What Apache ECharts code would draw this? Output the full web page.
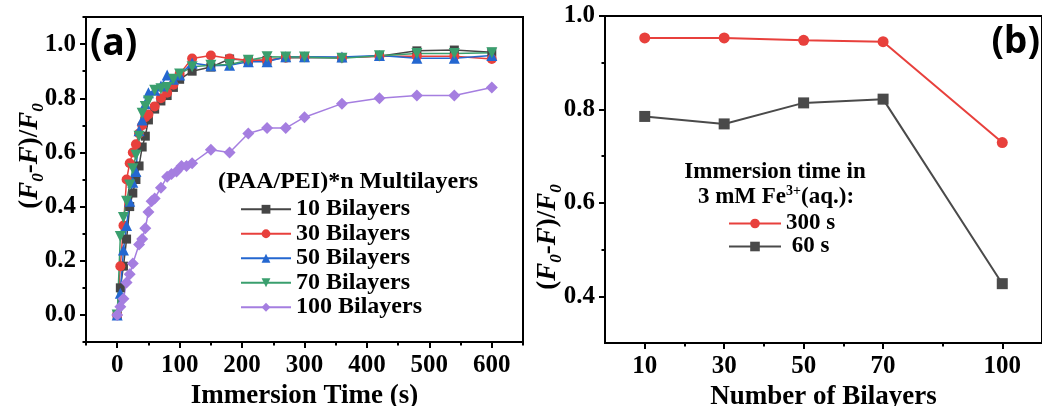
<!DOCTYPE html>
<html>
<head>
<meta charset="utf-8">
<script src="https://cdn.jsdelivr.net/npm/echarts@6/dist/echarts.min.js"></script>
<style>
html,body{margin:0;padding:0;background:#fff;}
#chart{width:1042px;height:406px;}
</style>
</head>
<body>
<div id="chart"></div>
<script>
// ---------- Data: panel (a) ----------
const timeFast = [0,5,10,15,20,25,30,35,40,45,50,60,70,80,90,100,120,150,180,210,240,270,300,360,420,480,540,600];
const bil10  = [0,0.10,0.18,0.28,0.40,0.45,0.50,0.55,0.62,0.66,0.72,0.76,0.79,0.81,0.84,0.87,0.90,0.915,0.945,0.94,0.94,0.95,0.95,0.95,0.955,0.975,0.978,0.97];
const bil30  = [0,0.18,0.33,0.50,0.56,0.60,0.63,0.67,0.70,0.73,0.74,0.77,0.80,0.82,0.85,0.89,0.947,0.958,0.947,0.94,0.94,0.95,0.952,0.95,0.955,0.955,0.955,0.945];
const bil50  = [0,0.08,0.24,0.33,0.42,0.49,0.53,0.68,0.72,0.78,0.82,0.83,0.845,0.886,0.87,0.886,0.93,0.92,0.922,0.935,0.935,0.953,0.953,0.952,0.958,0.948,0.948,0.958];
const bil70  = [0,0.29,0.36,0.42,0.48,0.54,0.59,0.66,0.745,0.77,0.79,0.83,0.835,0.84,0.87,0.89,0.916,0.922,0.925,0.94,0.953,0.952,0.952,0.948,0.957,0.965,0.965,0.968];
const time100 = [0,5,10,15,20,25,35,40,45,50,55,60,70,80,87,95,103,111,120,150,180,210,240,270,300,360,420,480,540,600];
const bil100 = [0,0.03,0.06,0.12,0.15,0.19,0.26,0.28,0.32,0.38,0.42,0.43,0.47,0.51,0.52,0.53,0.55,0.55,0.56,0.61,0.60,0.67,0.69,0.69,0.73,0.78,0.80,0.81,0.81,0.84];
const namesA = ['10 Bilayers','30 Bilayers','50 Bilayers','70 Bilayers','100 Bilayers'];
const xTicksA = [0,100,200,300,400,500,600];
const xMinorA = [-50,50,150,250,350,450,550,650];
const yTicksA = [0,0.2,0.4,0.6,0.8,1.0];
const yMinorA = [-0.1,0.1,0.3,0.5,0.7,0.9,1.1];

// ---------- Data: panel (b) ----------
const bilayers = [10,30,50,70,100];
const t300 = [0.953,0.953,0.948,0.945,0.729];
const t60  = [0.785,0.769,0.814,0.822,0.427];
const namesB = ['300 s',' 60 s'];
const xTicksB = [10,30,50,70,100];
const xMinorB = [20,40,60,85];
const yTicksB = [0.4,0.6,0.8,1.0];
const yMinorB = [0.5,0.7,0.9];

const FONT = 'Liberation Serif';
const colA = ['#454545','#e8403c','#2467d0','#3a9f6e','#a57ee0'];
const symA = ['rect','circle','triangle','path://M0,0L2,0L1,1.732Z','diamond'];
const sizeA = [9,10,11,11,12];
const dataA = [bil10,bil30,bil50,bil70,bil100];
const timesA = [timeFast,timeFast,timeFast,timeFast,time100];

const chart = echarts.init(document.getElementById('chart'), null, {renderer:'canvas'});

const labelStyle = {fontFamily:FONT, fontWeight:'bold', fontSize:25, color:'#000'};
const nameStyle = {fontFamily:FONT, fontWeight:'bold', fontSize:27, color:'#000'};
const axLine = {show:true, onZero:false, lineStyle:{color:'#000', width:2}};

function mainX(grid, min, max, ticks, name, gap){
  return {type:'value', gridIndex:grid, min:min, max:max, position:'bottom',
    axisLine:axLine, splitLine:{show:false},
    axisTick:{show:true, customValues:ticks, length:6, lineStyle:{color:'#000', width:2}},
    axisLabel:{customValues:ticks, margin:11, ...labelStyle},
    name:name, nameLocation:'middle', nameGap:gap, nameTextStyle:nameStyle};
}
function minorX(grid, min, max, ticks){
  return {type:'value', gridIndex:grid, min:min, max:max, position:'bottom',
    axisLine:{show:false, onZero:false}, splitLine:{show:false}, axisLabel:{show:false},
    axisTick:{show:true, customValues:ticks, length:3.5, lineStyle:{color:'#000', width:2}}};
}
function mainY(grid, min, max, ticks){
  return {type:'value', gridIndex:grid, min:min, max:max, position:'left',
    axisLine:axLine, splitLine:{show:false},
    axisTick:{show:true, customValues:ticks, length:6, lineStyle:{color:'#000', width:2}},
    axisLabel:{customValues:ticks, margin:10, formatter:v=>v.toFixed(1), ...labelStyle}};
}
function minorY(grid, min, max, ticks){
  return {type:'value', gridIndex:grid, min:min, max:max, position:'left',
    axisLine:{show:false, onZero:false}, splitLine:{show:false}, axisLabel:{show:false},
    axisTick:{show:true, customValues:ticks, length:3.5, lineStyle:{color:'#000', width:2}}};
}

const series = [];
for(let i=0;i<5;i++){
  series.push({
    name:namesA[i], type:'line', xAxisIndex:0, yAxisIndex:0,
    data: timesA[i].map((t,k)=>[t, dataA[i][k]]),
    symbol:symA[i], symbolSize:sizeA[i], showSymbol:true,
    itemStyle:{color:colA[i]}, lineStyle:{color:colA[i], width:1.5},
    emphasis:{disabled:true}, animation:false
  });
}
series.push({name:namesB[0], type:'line', xAxisIndex:2, yAxisIndex:2,
  data: bilayers.map((b,k)=>[b,t300[k]]), symbol:'circle', symbolSize:11,
  itemStyle:{color:'#e8403c'}, lineStyle:{color:'#e8403c', width:2}, animation:false});
series.push({name:namesB[1], type:'line', xAxisIndex:2, yAxisIndex:2,
  data: bilayers.map((b,k)=>[b,t60[k]]), symbol:'rect', symbolSize:11,
  itemStyle:{color:'#4a4a4a'}, lineStyle:{color:'#4a4a4a', width:2}, animation:false});

const yTitleRich = {
  p:{fontFamily:FONT, fontWeight:'bold', fontSize:27, lineHeight:34, color:'#000'},
  i:{fontFamily:FONT, fontWeight:'bold', fontStyle:'italic', fontSize:27, lineHeight:34, color:'#000'},
  s:{fontFamily:FONT, fontWeight:'bold', fontStyle:'italic', fontSize:17, lineHeight:17, verticalAlign:'bottom', color:'#000'}
};
const yTitleText = '{p|(}{i|F}{s|0}{p|-}{i|F}{p|)/}{i|F}{s|0}';

const option = {
  animation:false,
  backgroundColor:'#fff',
  grid:[
    {left:86, top:17, width:437, height:325, show:true, borderColor:'#000', borderWidth:2, backgroundColor:'transparent', containLabel:false, outerBoundsMode:'none'},
    {left:605, top:16, width:437, height:327, show:true, borderColor:'#000', borderWidth:2, backgroundColor:'transparent', containLabel:false, outerBoundsMode:'none'}
  ],
  xAxis:[
    mainX(0,-50,650,xTicksA,'Immersion Time (s)',31),
    minorX(0,-50,650,xMinorA),
    mainX(1,0,110,xTicksB,'Number of Bilayers',32),
    minorX(1,0,110,xMinorB)
  ],
  yAxis:[
    mainY(0,-0.1,1.1,yTicksA),
    minorY(0,-0.1,1.1,yMinorA),
    mainY(1,0.3,1.0,yTicksB),
    minorY(1,0.3,1.0,yMinorB)
  ],
  legend:[
    {data:namesA, orient:'vertical', left:235, top:192, itemWidth:50, itemHeight:11, itemGap:0,
     textStyle:{fontFamily:FONT, fontWeight:'bold', fontSize:24, lineHeight:24.5, color:'#000'},
     selectedMode:false},
    {data:namesB, orient:'vertical', left:723, top:207, itemWidth:52, itemHeight:12, itemGap:0,
     textStyle:{fontFamily:FONT, fontWeight:'bold', fontSize:23, lineHeight:22.5, color:'#000'},
     selectedMode:false}
  ],
  graphic:[
    {type:'text', x:30, y:156, rotation:Math.PI/2,
     style:{text:yTitleText, rich:yTitleRich, align:'center', verticalAlign:'middle'}},
    {type:'text', x:548, y:237, rotation:Math.PI/2,
     style:{text:yTitleText, rich:yTitleRich, align:'center', verticalAlign:'middle'}},
    {type:'text', x:218, y:182,
     style:{text:'(PAA/PEI)*n Multilayers', fontFamily:FONT, fontWeight:'bold', fontSize:24, fill:'#000', align:'left', verticalAlign:'middle'}},
    {type:'text', x:775, y:172,
     style:{text:'Immersion time in', fontFamily:FONT, fontWeight:'bold', fontSize:23, fill:'#000', align:'center', verticalAlign:'middle'}},
    {type:'text', x:776, y:197,
     style:{text:'{n|3 mM Fe}{u|3+}{n|(aq.):}', align:'center', verticalAlign:'middle',
       rich:{n:{fontFamily:FONT, fontWeight:'bold', fontSize:23, lineHeight:26, color:'#000'},
             u:{fontFamily:FONT, fontWeight:'bold', fontSize:14, lineHeight:14, verticalAlign:'top', color:'#000'}}}},
    {type:'text', x:90, y:44,
     style:{text:'(a)', fontFamily:'Noto Sans', fontWeight:'bold', fontSize:37, fill:'#000', align:'left', verticalAlign:'middle'}},
    {type:'text', x:1040, y:42,
     style:{text:'(b)', fontFamily:'Noto Sans', fontWeight:'bold', fontSize:37, fill:'#000', align:'right', verticalAlign:'middle'}}
  ],
  series:series
};
chart.setOption(option);
</script>
</body>
</html>
